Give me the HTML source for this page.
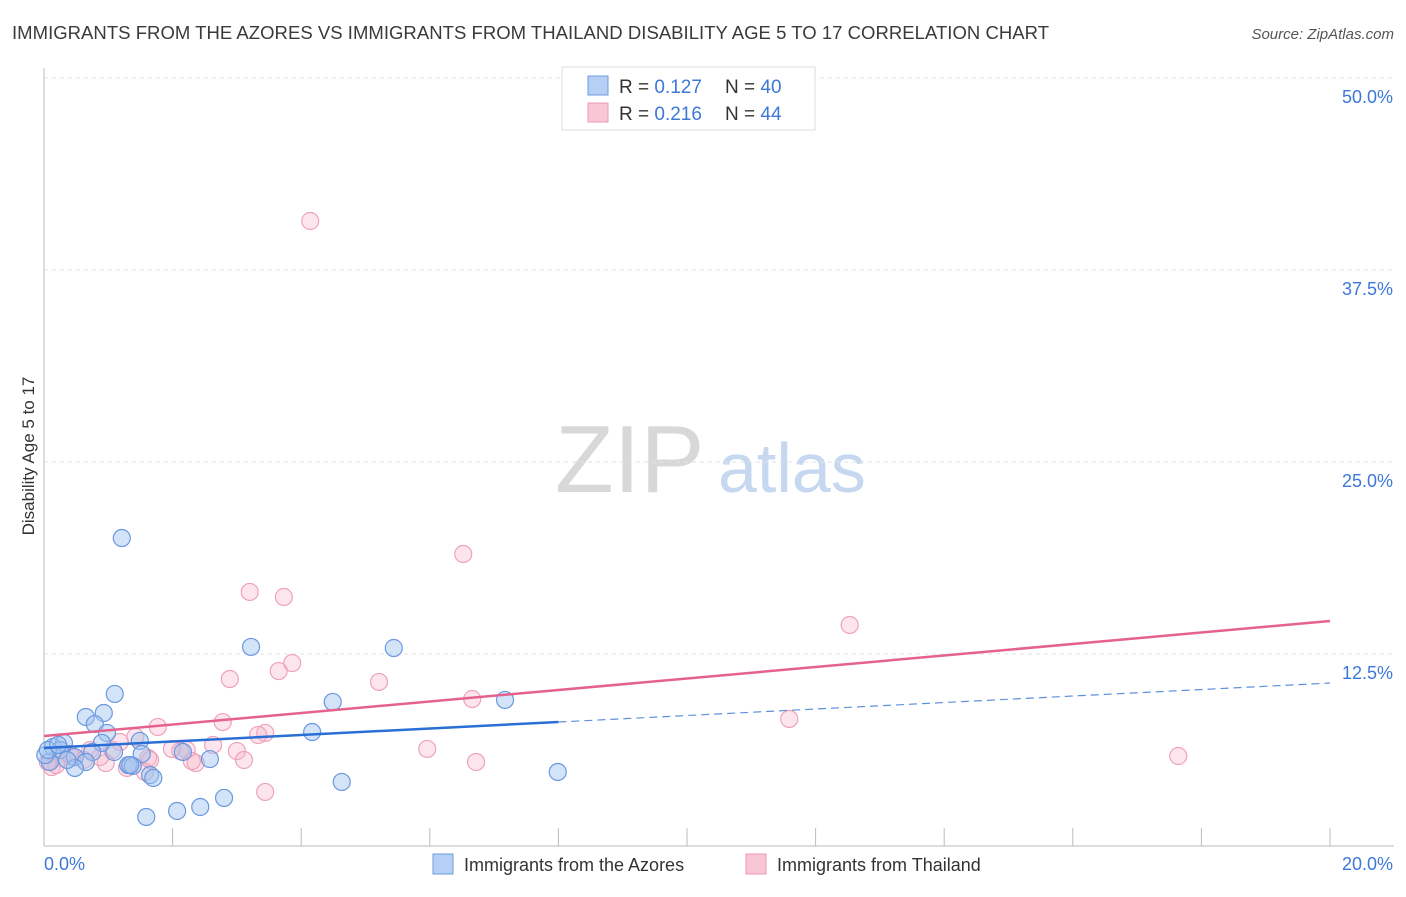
<!DOCTYPE html>
<html><head><meta charset="utf-8"><style>
body{margin:0;background:#fff;font-family:"Liberation Sans",sans-serif;}
svg text{font-family:"Liberation Sans",sans-serif;}
</style></head><body>
<svg id="c" width="1406" height="892" xmlns="http://www.w3.org/2000/svg">
<text x="12" y="39" font-size="18.5" fill="#3a3a3a" textLength="1037">IMMIGRANTS FROM THE AZORES VS IMMIGRANTS FROM THAILAND DISABILITY AGE 5 TO 17 CORRELATION CHART</text>
<text x="1394" y="39" font-size="15" fill="#555" font-style="italic" text-anchor="end">Source: ZipAtlas.com</text>
<text x="34" y="456" font-size="17" fill="#333" transform="rotate(-90 34 456)" text-anchor="middle">Disability Age 5 to 17</text>
<text x="555" y="492" font-size="96" fill="#d8d8d8" font-family="Liberation Serif">ZIP</text>
<text x="718" y="492" font-size="70" fill="#c5d8f0">atlas</text>
<g id="grid"></g><g id="pts"></g><g id="lines"></g>
<g>
<rect x="562" y="67" width="253" height="63" fill="#fff" stroke="#ddd"/>
<rect x="588" y="76" width="20" height="19" fill="#b6d0f5" stroke="#6c9be0"/>
<rect x="588" y="103" width="20" height="19" fill="#f9c6d5" stroke="#ec9ab4"/>
<text x="619" y="93" font-size="19" fill="#333">R = <tspan fill="#3d78d8">0.127</tspan></text>
<text x="725" y="93" font-size="19" fill="#333">N = <tspan fill="#3d78d8">40</tspan></text>
<text x="619" y="120" font-size="19" fill="#333">R = <tspan fill="#3d78d8">0.216</tspan></text>
<text x="725" y="120" font-size="19" fill="#333">N = <tspan fill="#3d78d8">44</tspan></text>
</g>
<g>
<rect x="433" y="854" width="20" height="20" fill="#b6d0f5" stroke="#6c9be0"/>
<text x="464" y="871" font-size="18" fill="#333">Immigrants from the Azores</text>
<rect x="746" y="854" width="20" height="20" fill="#f9c6d5" stroke="#ec9ab4"/>
<text x="777" y="871" font-size="18" fill="#333">Immigrants from Thailand</text>
</g>
</svg>
<script>
const yTicks=[12.5,25,37.5,50];
const yTickLabels=["12.5%","25.0%","37.5%","50.0%"];
const xTickVals=[0,2,4,6,8,10,12,14,16,18,20];
const xEndLabels=["0.0%","20.0%"];
const blueX=[1.21,3.22,5.44,1.10,0.65,0.93,0.79,4.49,7.17,4.17,0.98,1.49,0.90,0.14,0.31,0.25,0.75,1.09,1.52,2.16,2.58,0.48,0.65,1.31,1.38,1.65,1.70,0.48,0.09,0.02,7.99,4.63,2.80,2.43,2.07,1.59,0.06,0.36,0.22,1.34];
const blueY=[20.05,12.96,12.89,9.90,8.40,8.66,7.94,9.38,9.51,7.42,7.36,6.84,6.71,6.45,6.71,6.25,6.12,6.12,5.99,6.12,5.66,5.79,5.47,5.27,5.21,4.62,4.43,5.08,5.47,5.92,4.82,4.17,3.13,2.54,2.28,1.89,6.25,5.60,6.58,5.27];
const pinkX=[4.14,6.52,12.53,3.20,3.73,3.86,3.65,2.89,5.21,6.66,11.59,2.78,1.77,5.96,6.72,17.64,3.44,3.33,1.42,1.18,2.63,3.00,2.22,1.99,1.06,1.62,1.29,0.96,0.87,0.62,0.44,0.28,0.12,0.19,0.06,2.36,2.30,3.11,3.44,2.12,0.40,1.57,0.72,1.65];
const pinkY=[40.69,19.01,14.39,16.54,16.21,11.91,11.39,10.87,10.68,9.57,8.27,8.07,7.75,6.32,5.47,5.86,7.36,7.23,7.10,6.77,6.58,6.18,6.25,6.32,6.25,5.73,5.08,5.40,5.79,5.60,5.79,5.73,5.14,5.27,5.47,5.40,5.53,5.60,3.52,6.18,5.99,4.82,6.25,5.60];
const blueTrend=[6.38,10.61];
const pinkTrend=[7.16,14.65];
const blueSolidEnd=8;
const NS="http://www.w3.org/2000/svg";
const X=v=>44+v*64.3, Y=v=>846-v*15.36;
function mk(tag,attrs,parent){const e=document.createElementNS(NS,tag);for(const k in attrs)e.setAttribute(k,attrs[k]);parent.appendChild(e);return e;}
const grid=document.getElementById('grid');
yTicks.forEach((t,i)=>{
 const l=mk('line',{x1:44,x2:1394,y1:Y(t),y2:Y(t),stroke:'#e2e2e2','stroke-dasharray':'4,4'},grid);
 
 
 const tx=mk('text',{x:1393,y:Y(t)+25,'font-size':18,fill:'#3d78d8','text-anchor':'end'},grid);
 tx.textContent=yTickLabels[i];
 
 
});
mk('line',{x1:44,x2:44,y1:68,y2:846,stroke:'#bbb'},grid);
mk('line',{x1:44,x2:1394,y1:846,y2:846,stroke:'#bbb'},grid);
xTickVals.forEach(t=>{const l=mk('line',{x1:X(t),x2:X(t),y1:828,y2:846,stroke:'#bbb'},grid);
 
 });
const t0=mk('text',{x:44,y:870,'font-size':18,fill:'#3d78d8'},grid);t0.textContent=xEndLabels[0];


const t1=mk('text',{x:1393,y:870,'font-size':18,fill:'#3d78d8','text-anchor':'end'},grid);t1.textContent=xEndLabels[1];


const pts=document.getElementById('pts');
pinkX.forEach((v,i)=>{const c=mk('circle',{cx:X(v),cy:Y(pinkY[i]),r:8.5,fill:'rgba(246,180,201,0.35)',stroke:'#eea3bb','stroke-width':1.2},pts);
 
 });
blueX.forEach((v,i)=>{const c=mk('circle',{cx:X(v),cy:Y(blueY[i]),r:8.5,fill:'rgba(160,195,240,0.45)',stroke:'#6a98e0','stroke-width':1.2},pts);
 
 });
const lines=document.getElementById('lines');
const bAt=x=>blueTrend[0]+(blueTrend[1]-blueTrend[0])*x/20;
const pl=mk('line',{x1:X(0),y1:Y(pinkTrend[0]),x2:X(20),y2:Y(pinkTrend[1]),stroke:'#e5628c','stroke-width':2.5},lines);


const bl=mk('line',{x1:X(0),y1:Y(bAt(0)),x2:X(blueSolidEnd),y2:Y(bAt(blueSolidEnd)),stroke:'#2a6fd6','stroke-width':2.5},lines);


const bd=mk('line',{x1:X(blueSolidEnd),y1:Y(bAt(blueSolidEnd)),x2:X(20),y2:Y(bAt(20)),stroke:'#5d90de','stroke-width':1.2,'stroke-dasharray':'8,5'},lines);


</script>
</body></html>
